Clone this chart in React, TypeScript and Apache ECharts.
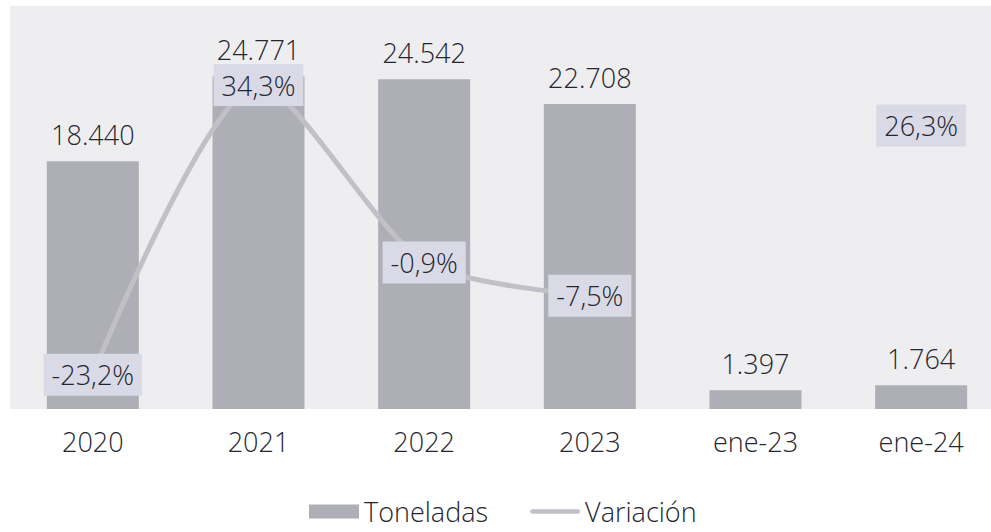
import React, { useEffect, useRef } from "react";
import * as echarts from "echarts";

const categories = ["2020", "2021", "2022", "2023", "ene-23", "ene-24"];
const toneladas = [18440, 24771, 24542, 22708, 1397, 1764];
const variacion: (number | null)[] = [-23.2, 34.3, -0.9, -7.5, null, 26.3];

const FONT = "'Open Sans', sans-serif";
const TEXT = "#262630";
const W = 1004;

const fmtThousands = (v: number) =>
  String(Math.round(v)).replace(/\B(?=(\d{3})+(?!\d))/g, ".");
const fmtPct = (v: number) => v.toFixed(1).replace(".", ",") + "%";

export default function App() {
  const ref = useRef<HTMLDivElement>(null);
  useEffect(() => {
    if (!ref.current) return;
    const chart = echarts.init(ref.current, undefined, { renderer: "svg" });
    chart.setOption({
      animation: false,
      backgroundColor: "#ffffff",
      textStyle: { fontFamily: FONT },
      grid: {
        left: 10,
        right: 0,
        top: 6,
        bottom: 123,
        show: true,
        backgroundColor: "#eeeef1",
        borderWidth: 0,
      },
      legend: {
        bottom: 2,
        left: 304,
        itemWidth: 50,
        itemHeight: 14,
        itemGap: 42,
        textStyle: { fontFamily: FONT, fontSize: 27, fontWeight: 300, color: TEXT },
        data: [
          { name: "Toneladas", icon: "rect" },
          {
            name: "Variación",
            icon: "path://M2.5,0 H52.5 A2.5,2.5 0 0 1 52.5,5 H2.5 A2.5,2.5 0 0 1 2.5,0 Z",
            itemStyle: { color: "#c0c0c6" },
          },
        ],
      },
      xAxis: {
        type: "category",
        data: categories,
        axisLine: { show: false },
        axisTick: { show: false },
        axisLabel: { fontFamily: FONT, fontSize: 27, fontWeight: 300, color: TEXT, margin: 19 },
      },
      yAxis: [
        { type: "value", min: 0, max: 30000, show: false, splitLine: { show: false } },
        { type: "value", min: -30, max: 50, show: false, splitLine: { show: false } },
      ],
      series: [
        {
          name: "Toneladas",
          type: "bar",
          data: toneladas,
          barWidth: 92,
          itemStyle: { color: "#aeaeb6" },
          label: {
            show: true,
            position: "top",
            distance: 13,
            fontFamily: FONT,
            fontSize: 27,
            fontWeight: 300,
            color: TEXT,
            formatter: (p: any) => fmtThousands(p.value),
          },
        },
        {
          name: "Variación",
          type: "line",
          yAxisIndex: 1,
          data: variacion,
          smooth: 0.25,
          connectNulls: false,
          symbol: "circle",
          symbolSize: 2,
          lineStyle: { color: "#c0c0c6", width: 5 },
          itemStyle: { color: "#c0c0c6" },
          label: {
            show: true,
            position: "inside",
            fontFamily: FONT,
            fontSize: 27,
            fontWeight: 300,
            color: TEXT,
            backgroundColor: "#d9dae6",
            padding: [8, 8, 7, 8],
            formatter: (p: any) => fmtPct(p.value),
          },
          z: 5,
        },
      ],
    });
    return () => chart.dispose();
  }, []);
  return (
    <div style={{ position: "absolute", left: 0, top: 0, width: 991, height: 532, overflow: "hidden" }}>
      <div ref={ref} style={{ width: W, height: 532 }} />
    </div>
  );
}
